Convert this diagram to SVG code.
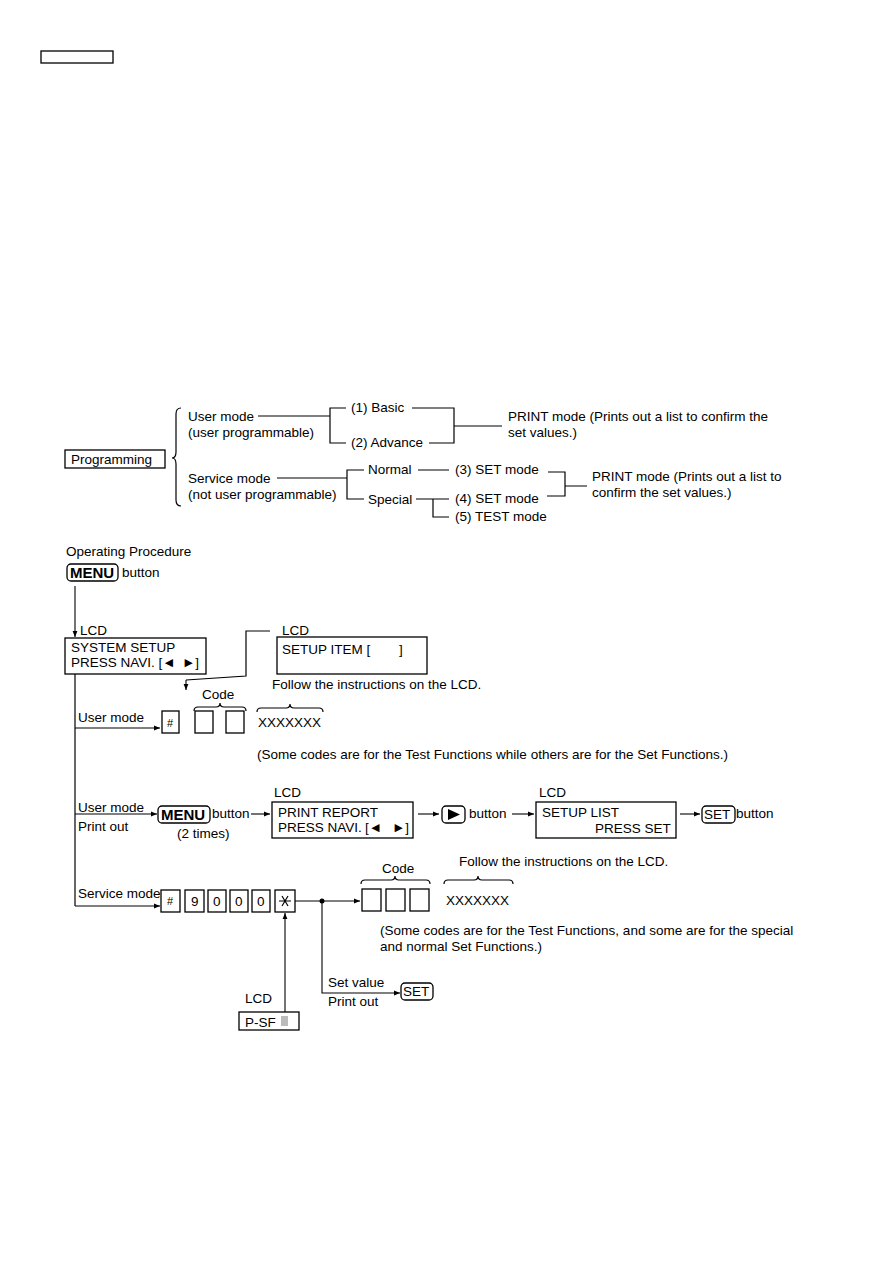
<svg xmlns="http://www.w3.org/2000/svg" width="893" height="1263" viewBox="0 0 893 1263">
<defs>
<marker id="ah" viewBox="0 0 10 10" refX="10" refY="5" markerWidth="7" markerHeight="6" orient="auto" markerUnits="userSpaceOnUse">
<path d="M0,1 L10,5 L0,9 z" fill="#000"/>
</marker>
<style>
text{font-family:"Liberation Sans",Arial,sans-serif;font-size:13.5px;fill:#000}
.b{font-weight:bold;font-size:15px}
.s{font-size:11px}
.box{fill:#fff;stroke:#000;stroke-width:1.3}
.ln{fill:none;stroke:#000;stroke-width:1.2}
.ar{fill:none;stroke:#000;stroke-width:1.1;marker-end:url(#ah)}
</style>
</defs>
<rect width="893" height="1263" fill="#fff"/>
<rect x="41" y="51" width="72" height="12" class="box"/>

<!-- Top tree -->
<g id="programming"><rect x="65" y="450" width="100" height="18" class="box"/><text x="71" y="464">Programming</text></g>
<g id="user-mode"><text x="188" y="421">User mode</text><text x="188" y="437">(user programmable)</text></g>
<g id="service-mode"><text x="188" y="483">Service mode</text><text x="188" y="499">(not user programmable)</text></g>
<g id="basic"><text x="351" y="412">(1) Basic</text></g>
<g id="advance"><text x="351" y="447">(2) Advance</text></g>
<g id="print1"><text x="508" y="421">PRINT mode (Prints out a list to confirm the</text><text x="508" y="437">set values.)</text></g>
<g id="normal"><text x="368" y="474">Normal</text></g>
<g id="special"><text x="368" y="504">Special</text></g>
<g id="set3"><text x="455" y="474">(3) SET mode</text></g>
<g id="set4"><text x="455" y="503">(4) SET mode</text></g>
<g id="test5"><text x="455" y="521">(5) TEST mode</text></g>
<g id="print2"><text x="592" y="481">PRINT mode (Prints out a list to</text><text x="592" y="497">confirm the set values.)</text></g>

<g id="tree-connectors" class="ln">
<path d="M181,408 Q176,408 176,414 L176,452 Q176,458 172,458 Q176,458 176,464 L176,500 Q176,506 181,506"/>
<path d="M258,416 H330 M346,408 H330 V443 H346"/>
<path d="M412,408 H454 V443 H429 M454,426 H502"/>
<path d="M277,478 H347 M364,470 H347 V499 H364"/>
<path d="M418,470 H449 M416,499 H449 M433,499 V517 H449"/>
<path d="M548,472 H565 V496 H547 M565,486 H587"/>
</g>

<!-- Operating procedure -->
<g id="op-title"><text x="66" y="556">Operating Procedure</text></g>
<g id="menu1"><rect x="67" y="564" width="51" height="17" rx="4" class="box"/><text x="70" y="578" class="b">MENU</text><text x="122" y="577">button</text></g>
<g id="lcd-system"><text x="80" y="635">LCD</text><rect x="65" y="638" width="141" height="36" class="box"/><text x="71" y="652">SYSTEM SETUP</text><text x="71" y="667">PRESS NAVI. [◄</text><text x="182" y="667">►]</text></g>
<g id="lcd-setup-item"><text x="282" y="635">LCD</text><rect x="277" y="637" width="150" height="37" class="box"/><text x="282" y="654">SETUP ITEM [</text><text x="399" y="654">]</text><text x="272" y="689">Follow the instructions on the LCD.</text></g>
<g id="user-code"><text x="78" y="722">User mode</text>
<rect x="162" y="711" width="17" height="22" class="box"/><text x="167" y="727" class="s">#</text>
<rect x="195" y="711" width="18" height="22" class="box"/><rect x="226" y="711" width="18" height="22" class="box"/>
<text x="202" y="699">Code</text><text x="258" y="727">XXXXXXX</text>
<text x="257" y="759">(Some codes are for the Test Functions while others are for the Set Functions.)</text>
<path class="ln" d="M194,711 Q194,707 198,707 L216,707 Q220,707 220,703 Q220,707 224,707 L242,707 Q246,707 246,711"/>
<path class="ln" d="M257,712 Q257,708 261,708 L286,708 Q290,708 290,704 Q290,708 294,708 L319,708 Q323,708 323,712"/>
</g>
<g id="print-row"><text x="78" y="812">User mode</text><text x="78" y="831">Print out</text>
<rect x="158" y="806" width="52" height="17" rx="4" class="box"/><text x="161" y="820" class="b">MENU</text><text x="212" y="818">button</text><text x="177" y="838">(2 times)</text>
<text x="274" y="797">LCD</text><rect x="272" y="802" width="141" height="36" class="box"/><text x="278" y="817">PRINT REPORT</text><text x="278" y="832">PRESS NAVI.</text><text x="365" y="832">[◄</text><text x="392" y="832">►]</text>
<rect x="442" y="806" width="23" height="17" rx="4" class="box"/><path d="M448,809 L460,814.5 L448,820 z" fill="#000"/><text x="469" y="818">button</text>
<text x="539" y="797">LCD</text><rect x="536" y="802" width="140" height="36" class="box"/><text x="542" y="817">SETUP LIST</text><text x="595" y="833">PRESS SET</text>
<rect x="702" y="806" width="33" height="17" rx="4" class="box"/><text x="704" y="819">SET</text><text x="736" y="818">button</text>
</g>
<g id="service-row"><text x="78" y="898">Service mode</text>
<rect x="161" y="890" width="19" height="22" class="box"/><text x="167" y="905" class="s">#</text>
<rect x="185" y="890" width="19" height="22" class="box"/><text x="191" y="906">9</text>
<rect x="208" y="890" width="18" height="22" class="box"/><text x="213" y="906">0</text>
<rect x="230" y="890" width="18" height="22" class="box"/><text x="235" y="906">0</text>
<rect x="252" y="890" width="18" height="22" class="box"/><text x="257" y="906">0</text>
<rect x="275" y="890" width="20" height="22" class="box"/><path class="ln" d="M279,901 H291 M282,896 L288,906 M288,896 L282,906"/>
<rect x="362" y="889" width="19" height="22" class="box"/><rect x="386" y="889" width="19" height="22" class="box"/><rect x="410" y="889" width="19" height="22" class="box"/>
<text x="382" y="873">Code</text><text x="446" y="905">XXXXXXX</text><text x="459" y="866">Follow the instructions on the LCD.</text>
<text x="380" y="935">(Some codes are for the Test Functions, and some are for the special</text><text x="380" y="951">and normal Set Functions.)</text>
<path class="ln" d="M361,884 Q361,880 365,880 L391,880 Q395,880 395,876 Q395,880 399,880 L426,880 Q430,880 430,884"/>
<path class="ln" d="M444,884 Q444,880 448,880 L474,880 Q478,880 478,876 Q478,880 482,880 L509,880 Q513,880 513,884"/>
<text x="328" y="987">Set value</text><text x="328" y="1006">Print out</text>
<rect x="401" y="983" width="32" height="17" rx="4" class="box"/><text x="403" y="996">SET</text>
</g>
<g id="lcd-psf"><text x="245" y="1003">LCD</text><rect x="239" y="1012" width="60" height="18" class="box"/><text x="245" y="1027">P-SF</text><rect x="281" y="1016" width="7" height="10" fill="#bbb"/></g>

<g id="connectors">
<path class="ar" d="M75,586 V637"/>
<path class="ln" d="M75,674 V906"/>
<path class="ar" d="M75,728 H160"/>
<path class="ar" d="M75,814 H157"/>
<path class="ar" d="M75,906 H160"/>
<path class="ln" d="M270,631 H246 V676 L186,680"/>
<path class="ar" d="M186,680 V690"/>
<path class="ar" d="M251,814 H270"/>
<path class="ar" d="M418,814 H439"/>
<path class="ar" d="M512,814 H534"/>
<path class="ar" d="M680,814 H700"/>
<path class="ar" d="M295,901 H360"/>
<circle cx="322" cy="901" r="2.5" fill="#000"/>
<path class="ar" d="M322,901 V993 H400"/>
<path class="ar" d="M285,1012 V913"/>
</g>
</svg>
